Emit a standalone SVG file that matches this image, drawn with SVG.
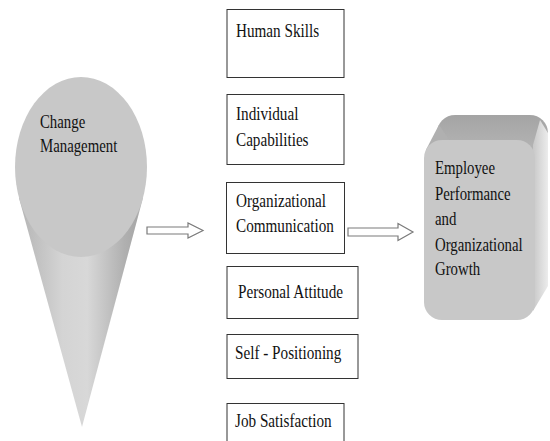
<svg xmlns="http://www.w3.org/2000/svg" width="550" height="441" viewBox="0 0 550 441">
<defs>
<linearGradient id="coneG" x1="19" y1="0" x2="143" y2="0" gradientUnits="userSpaceOnUse">
<stop offset="0" stop-color="#b4b4b4"/>
<stop offset="0.35" stop-color="#d4d4d4"/>
<stop offset="0.55" stop-color="#d8d8d8"/>
<stop offset="0.85" stop-color="#b0b0b0"/>
<stop offset="0.95" stop-color="#a8a8a8"/>
<stop offset="1" stop-color="#c4c4c4"/>
</linearGradient>
<linearGradient id="topG" x1="0" y1="115" x2="0" y2="150" gradientUnits="userSpaceOnUse">
<stop offset="0" stop-color="#a4a4a4"/>
<stop offset="1" stop-color="#b4b4b4"/>
</linearGradient>
<linearGradient id="sideG" x1="533" y1="0" x2="548" y2="0" gradientUnits="userSpaceOnUse">
<stop offset="0" stop-color="#c8c8c8"/>
<stop offset="1" stop-color="#ececec"/>
</linearGradient>
<style>
.t{font-family:"Liberation Serif","Times New Roman",serif;font-size:19px;fill:#111;}
.box{fill:#fff;stroke:#333;stroke-width:1;}
.arrow{fill:#fff;stroke:#7a7a7a;stroke-width:1.2;}
</style>
</defs>

<g id="change-management">
<path d="M19,198 L82,427 L143,198 Z" fill="url(#coneG)"/>
<ellipse cx="81" cy="167" rx="66" ry="90" fill="#c8c8c8"/>
<text class="t" transform="translate(40,128) scale(0.78 1)">Change</text>
<text class="t" transform="translate(40,152) scale(0.78 1)">Management</text>
</g>

<g id="human-skills">
<rect class="box" x="227" y="9.5" width="117" height="68"/>
<text class="t" transform="translate(236,37) scale(0.8 1)">Human Skills</text>
</g>
<g id="individual-capabilities">
<rect class="box" x="227" y="94.5" width="117" height="70"/>
<text class="t" transform="translate(236,120) scale(0.8 1)">Individual</text>
<text class="t" transform="translate(236,146) scale(0.8 1)">Capabilities</text>
</g>
<g id="organizational-communication">
<rect class="box" x="226.5" y="182.5" width="118" height="71"/>
<text class="t" transform="translate(236,207) scale(0.8 1)">Organizational</text>
<text class="t" transform="translate(236,232) scale(0.8 1)">Communication</text>
</g>
<g id="personal-attitude">
<rect class="box" x="227" y="266.5" width="131" height="52"/>
<text class="t" transform="translate(238,297.5) scale(0.8 1)">Personal Attitude</text>
</g>
<g id="self-positioning">
<rect class="box" x="227" y="334.5" width="131" height="44"/>
<text class="t" transform="translate(235,359) scale(0.8 1)">Self - Positioning</text>
</g>
<g id="job-satisfaction">
<rect class="box" x="227" y="403.5" width="117" height="45"/>
<text class="t" transform="translate(235,427) scale(0.8 1)">Job Satisfaction</text>
</g>

<g id="employee-performance">
<rect x="437" y="115" width="111" height="180" rx="18" fill="url(#topG)"/>
<polygon points="426,149.7 439,124.7 546,285.3 533,310.3" fill="#b0b0b0"/>
<polygon points="533,145 540,120 548,133 548,286 533,311" fill="url(#sideG)"/>
<rect x="424" y="140" width="111" height="180" rx="18" fill="#c8c8c8"/>
<text class="t" transform="translate(435,174) scale(0.78 1)">Employee</text>
<text class="t" transform="translate(435,199.5) scale(0.78 1)">Performance</text>
<text class="t" transform="translate(435,225) scale(0.78 1)">and</text>
<text class="t" transform="translate(435,250.5) scale(0.78 1)">Organizational</text>
<text class="t" transform="translate(435,275) scale(0.78 1)">Growth</text>
</g>

<g id="connectors">
<path class="arrow" d="M147,227 L188,227 L188,223 L203,230.5 L188,238 L188,234 L147,234 Z"/>
<path class="arrow" d="M348,228 L398,228 L398,223.5 L413,232 L398,240.5 L398,236 L348,236 Z"/>
</g>
</svg>
